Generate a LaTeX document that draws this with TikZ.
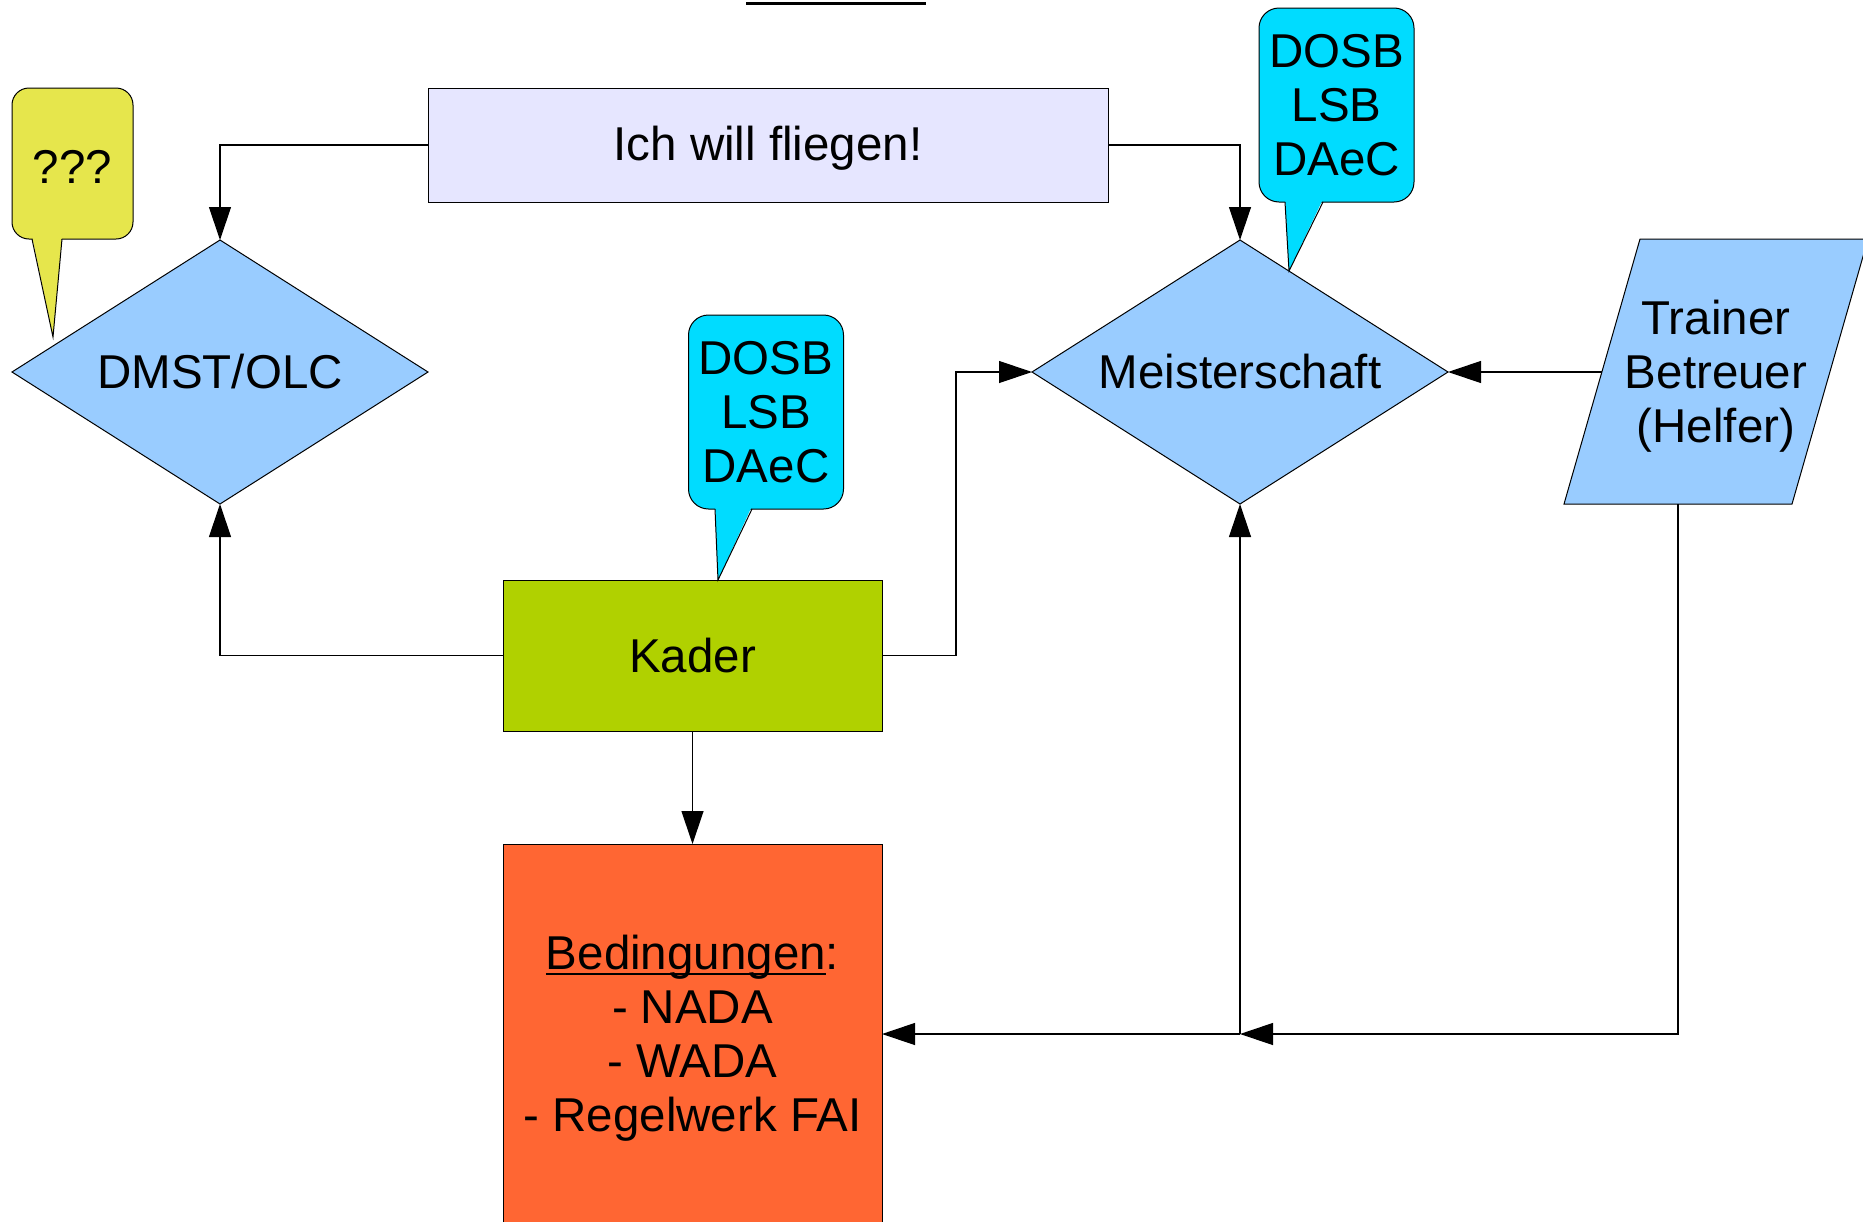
\documentclass[tikz,border=0pt]{standalone}
\usepackage{fontspec}
\setmainfont{Liberation Sans}
\usetikzlibrary{shapes.geometric,arrows.meta}
\definecolor{lav}{HTML}{E6E6FF}
\definecolor{skyb}{HTML}{99CCFF}
\definecolor{cyanb}{HTML}{00DCFF}
\definecolor{yel}{HTML}{E6E64C}
\definecolor{kad}{HTML}{B0D100}
\definecolor{org}{HTML}{FF6633}
\newcommand\myul[1]{\leavevmode\setbox0\hbox{#1}\rlap{\rule[-0.13em]{\wd0}{0.05em}}\box0}
\begin{document}
\begin{tikzpicture}[x=1pt,y=-1pt,
  box/.style={draw=black, line width=1pt, inner sep=0pt, outer sep=0pt, align=center, font=\fontsize{47.5}{54}\selectfont},
  dia/.style={box, diamond, fill=skyb, minimum width=416pt, minimum height=264pt, shape aspect=1.576},
  bubble/.style={box, fill=cyanb, rounded corners=20pt, minimum width=155pt, minimum height=194pt},
  conn/.style={line width=1.2pt, -{Triangle[length=33pt,width=22pt]}},
  ptr/.style={line width=1pt},
]
\useasboundingbox (0,0) rectangle (1863,1221);
% top bar
\fill (746,1.5) rectangle (926,4.7);
% nodes
\node[box, fill=lav, minimum width=680pt, minimum height=114pt, text depth=3pt] (ich) at (768,145) {Ich will fliegen!};
\node[dia] (dmst) at (220,372) {DMST/OLC};
\node[dia] (meister) at (1240,372) {Meisterschaft};
\node[box, fill=kad, minimum width=379pt, minimum height=151pt] (kader) at (692.5,655.5) {Kader};
\node[box, fill=org, minimum width=379pt, minimum height=380pt, text depth=2pt] (bed) at (692.5,1034) {\myul{Bedingungen}:\\- NADA\\- WADA\\- Regelwerk FAI};
% trainer parallelogram
\draw[line width=1pt, fill=skyb] (1564,504) -- (1640,239) -- (1868,239) -- (1792,504) -- cycle;
\node[align=center, inner sep=0pt, text depth=2pt, font=\fontsize{47.5}{54}\selectfont] (trainer) at (1716,372) {Trainer\\Betreuer\\(Helfer)};
\coordinate (trL) at (1602,372);
\coordinate (trB) at (1678,504);
\coordinate (junc) at (1240,1034);
% callouts
\node[box, fill=yel, rounded corners=17pt, minimum width=121pt, minimum height=151pt, text height=39pt] (q) at (72.5,163.5) {???};
\fill[yel] (32,236) -- (53,337) -- (62,236) -- cycle;
\draw[ptr] (32,239) -- (53,337) -- (62,239);
\node[bubble] (dosbA) at (1336.5,105) {DOSB\\LSB\\DAeC};
\fill[cyanb] (1285,199) -- (1289,271) -- (1323,199) -- cycle;
\draw[ptr] (1285,202) -- (1289,271) -- (1323,202);
\node[bubble] (dosbB) at (766,412) {DOSB\\LSB\\DAeC};
\fill[cyanb] (715,506) -- (718,580) -- (752,506) -- cycle;
\draw[ptr] (715,509) -- (718,580) -- (752,509);
% connectors
\draw[conn] (ich.west) -| (dmst.north);
\draw[conn] (ich.east) -| (meister.north);
\draw[conn] (kader.west) -| (dmst.south);
\draw[conn] (kader.east) -- ++(74,0) |- (meister.west);
\draw[conn] (kader.south) -- (bed.north);
\draw[conn] (trL) -- (meister.east);
\draw[conn] (trB) |- (junc);
\draw[conn] (junc) -- (meister.south);
\draw[conn] (junc) -- (bed.east);
\end{tikzpicture}
\end{document}
